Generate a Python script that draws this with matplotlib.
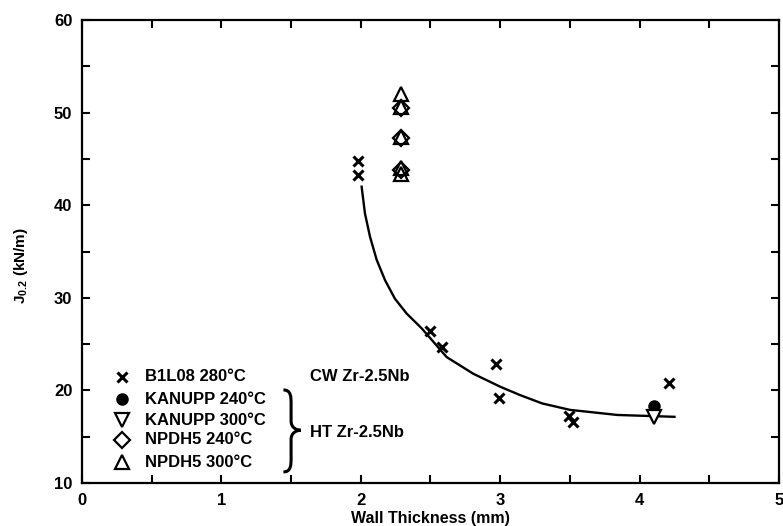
import matplotlib
matplotlib.use("Agg")
import matplotlib.pyplot as plt
from matplotlib.path import Path
from matplotlib.patches import PathPatch
from matplotlib.ticker import MultipleLocator

plt.rcParams['font.family'] = ['Liberation Sans', 'DejaVu Sans']
plt.rcParams['font.weight'] = 'bold'
plt.rcParams['mathtext.fontset'] = 'custom'
plt.rcParams['mathtext.rm'] = 'Liberation Sans:bold'
plt.rcParams['mathtext.bf'] = 'Liberation Sans:bold'

# B1L08 280C (CW Zr-2.5Nb)
b1l08_x = [1.98, 1.98, 2.50, 2.58, 2.97, 2.99, 3.49, 3.52, 4.21]
b1l08_y = [44.8, 43.3, 26.4, 24.7, 22.8, 19.2, 17.2, 16.6, 20.8]

# HT Zr-2.5Nb
kanupp240_x = [4.10]
kanupp240_y = [18.3]
kanupp300_x = [4.10]
kanupp300_y = [17.1]
npdh5_240_x = [2.29, 2.29, 2.29]
npdh5_240_y = [50.5, 47.3, 43.8]
npdh5_300_x = [2.29, 2.29, 2.29, 2.29, 2.29]
npdh5_300_y = [52.0, 50.6, 47.4, 44.0, 43.4]

# fitted trend curve
fit_x = [2.006, 2.030, 2.066, 2.114, 2.174, 2.245, 2.329, 2.437, 2.616,
         2.807, 3.000, 3.142, 3.30, 3.50, 3.84, 4.25]
fit_y = [42.0, 39.1, 36.6, 34.1, 31.9, 29.9, 28.3, 26.7, 23.6,
         21.8, 20.4, 19.5, 18.6, 17.9, 17.35, 17.15]

fig = plt.figure(figsize=(7.83, 5.26), dpi=100)
ax = fig.add_axes([0.1047, 0.0817, 0.8902, 0.8803])

ax.plot(fit_x, fit_y, color='black', lw=1.7, zorder=2)

ax.plot(b1l08_x, b1l08_y, 'x', color='black', ms=7, mew=2.2, zorder=3)
ax.plot(kanupp240_x, kanupp240_y, 'o', color='black', ms=8, zorder=3)
ax.plot(kanupp300_x, kanupp300_y, 'v', mfc='white', mec='black', ms=10, mew=1.6, zorder=3)
ax.plot(npdh5_240_x, npdh5_240_y, 'D', mfc='white', mec='black', ms=8, mew=1.6, zorder=3)
ax.plot(npdh5_300_x, npdh5_300_y, '^', mfc='none', mec='black', ms=10, mew=1.6, zorder=4)

ax.set_xlim(0, 5)
ax.set_ylim(10, 60)
ax.xaxis.set_major_locator(MultipleLocator(1))
ax.xaxis.set_minor_locator(MultipleLocator(0.5))
ax.yaxis.set_major_locator(MultipleLocator(10))
ax.yaxis.set_minor_locator(MultipleLocator(5))
ax.tick_params(which='both', direction='in', top=True, right=True, width=1.5)
ax.tick_params(which='major', length=6, labelsize=12, pad=7)
ax.tick_params(which='minor', length=6)
for s in ax.spines.values():
    s.set_linewidth(1.6)

ax.set_xlabel('Wall Thickness (mm)', fontsize=11.5, fontweight='bold', labelpad=2)
ax.set_ylabel(r'J$_{0.2}$ (kN/m)', fontsize=11, fontweight='bold')
ax.yaxis.set_label_coords(-0.075, 0.47)

# legend, drawn by hand
labels = ['B1L08 280°C', 'KANUPP 240°C', 'KANUPP 300°C', 'NPDH5 240°C', 'NPDH5 300°C']
rows = [0.229, 0.181, 0.136, 0.093, 0.045]
styles = [dict(marker='x', color='black', ms=7, mew=2.2),
          dict(marker='o', color='black', ms=8),
          dict(marker='v', mfc='white', mec='black', ms=10, mew=1.6),
          dict(marker='D', mfc='white', mec='black', ms=8, mew=1.6),
          dict(marker='^', mfc='white', mec='black', ms=10, mew=1.6)]
for lab, yy, st in zip(labels, rows, styles):
    ax.plot([0.0574], [yy], transform=ax.transAxes, ls='none', **st)
    ax.text(0.0904, yy, lab, transform=ax.transAxes, fontsize=12,
            fontweight='bold', va='center', ha='left')

ax.text(0.327, 0.229, 'CW Zr-2.5Nb', transform=ax.transAxes, fontsize=12,
        fontweight='bold', va='center', ha='left')
ax.text(0.327, 0.110, 'HT Zr-2.5Nb', transform=ax.transAxes, fontsize=12,
        fontweight='bold', va='center', ha='left')

# curly brace
x0, xm, x1 = 0.289, 0.300, 0.314
yt, ym, yb = 0.201, 0.114, 0.024
verts = [(x0, yt),
         (xm, yt), (xm, yt - 0.015), (xm, yt - 0.03),
         (xm, ym + 0.02),
         (xm, ym + 0.005), (x1 - 0.006, ym), (x1, ym),
         (x1 - 0.006, ym), (xm, ym - 0.005), (xm, ym - 0.02),
         (xm, yb + 0.03),
         (xm, yb + 0.015), (xm, yb), (x0, yb)]
codes = [Path.MOVETO,
         Path.CURVE4, Path.CURVE4, Path.CURVE4,
         Path.LINETO,
         Path.CURVE4, Path.CURVE4, Path.CURVE4,
         Path.CURVE4, Path.CURVE4, Path.CURVE4,
         Path.LINETO,
         Path.CURVE4, Path.CURVE4, Path.CURVE4]
ax.add_patch(PathPatch(Path(verts, codes), transform=ax.transAxes,
                       fill=False, lw=2.2, color='black'))

fig.savefig('out.png', dpi=100)
